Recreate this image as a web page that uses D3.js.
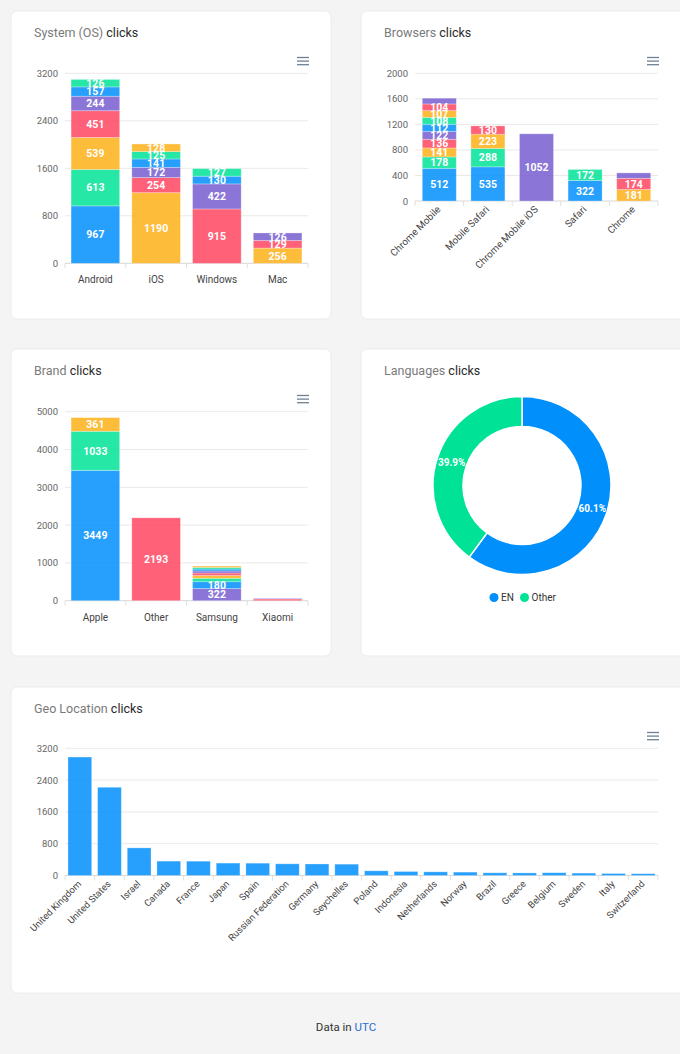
<!DOCTYPE html>
<html lang="en">
<head>
<meta charset="utf-8">
<title>Clicks dashboard</title>
<script src="https://cdn.jsdelivr.net/npm/d3@7"></script>
<style>
  body { margin: 0; background: #f4f4f4; font-family: Roboto, "Open Sans", sans-serif; }
  svg { display: block; }
</style>
</head>
<body>
<script>
// colour cycle, one colour per stacked series (like the original dashboard)
var palette = ["#008FFB", "#00E396", "#FEB019", "#FF4560", "#775DD0"];

var osCategories = ["Android", "iOS", "Windows", "Mac"];
var osValues = [
  [967, 613, 539, 451, 244, 157, 126],
  [1190, 254, 172, 141, 125, 128],
  [915, 422, 130, 127],
  [256, 129, 126]
];
var osTicks = [0, 800, 1600, 2400, 3200];

var browserCategories = ["Chrome Mobile", "Mobile Safari", "Chrome Mobile iOS", "Safari", "Chrome"];
var browserValues = [
  [512, 178, 141, 136, 122, 112, 108, 107, 104, 90],
  [535, 288, 223, 130],
  [1052],
  [322, 172],
  [181, 174, 85]
];
var browserTicks = [0, 400, 800, 1200, 1600, 2000];

var brandCategories = ["Apple", "Other", "Samsung", "Xiaomi"];
var brandValues = [
  [3449, 1033, 361],
  [2193],
  [322, 180, 90, 75, 65, 55, 50, 42, 37],
  [45, 15]
];
var brandTicks = [0, 1000, 2000, 3000, 4000, 5000];

var langLabels = ["EN", "Other"];
var langValues = [60.1, 39.9];
var langColors = ["#008FFB", "#00E396"];

var geoCategories = ["United Kingdom", "United States", "Israel", "Canada", "France", "Japan", "Spain",
  "Russian Federation", "Germany", "Seychelles", "Poland", "Indonesia", "Netherlands", "Norway",
  "Brazil", "Greece", "Belgium", "Sweden", "Italy", "Switzerland"];
var geoValues = [2980, 2220, 695, 362, 360, 312, 310, 294, 290, 285, 118, 100, 92, 85, 68, 65, 70, 60, 50, 45];
var geoTicks = [0, 800, 1600, 2400, 3200];

var W = 680, H = 1054;
var svg = d3.select("body").append("svg").attr("width", W).attr("height", H);

// cards
var cards = [
  {x: 11, y: 11, w: 320, h: 308},
  {x: 361, y: 11, w: 330, h: 308},
  {x: 11, y: 349, w: 320, h: 307},
  {x: 361, y: 349, w: 330, h: 307},
  {x: 11, y: 687, w: 680, h: 306}
];
svg.selectAll("rect.card").data(cards).enter().append("rect")
  .attr("class", "card")
  .attr("x", function(d) { return d.x; })
  .attr("y", function(d) { return d.y; })
  .attr("width", function(d) { return d.w; })
  .attr("height", function(d) { return d.h; })
  .attr("rx", 6)
  .attr("fill", "#fff")
  .attr("stroke", "#ececec");

function title(x, y, first) {
  var t = svg.append("text").attr("x", x).attr("y", y)
    .attr("font-size", "12.5px");
  t.append("tspan").attr("fill", "#7a7a7a").text(first + " ");
  t.append("tspan").attr("fill", "#2a2a2a").text("clicks");
}

function menu(x, y) {
  svg.selectAll(null).data([0, 3.6, 7.2]).enter().append("line")
    .attr("x1", x).attr("x2", x + 12)
    .attr("y1", function(d) { return y + d; })
    .attr("y2", function(d) { return y + d; })
    .attr("stroke", "#6e8192").attr("stroke-width", 1.3);
}

function yAxis(g, y, ticks, x0, x1) {
  g.selectAll("line.grid").data(ticks).enter().append("line")
    .attr("x1", x0).attr("x2", x1)
    .attr("y1", function(d) { return y(d); })
    .attr("y2", function(d) { return y(d); })
    .attr("stroke", function(d) { return d === 0 ? "#d8d8d8" : "#e9e9e9"; });
  g.selectAll("text.ytick").data(ticks).enter().append("text")
    .attr("x", x0 - 7)
    .attr("y", function(d) { return y(d) + 3.5; })
    .attr("text-anchor", "end")
    .attr("font-size", "9.5px")
    .attr("fill", "#666")
    .text(function(d) { return d; });
}

function xTicks(g, x, baseY) {
  var step = x.step();
  var r = x.range();
  var pos = d3.range(x.domain().length + 1).map(function(i) { return r[0] + i * step; });
  g.selectAll("line.xt").data(pos).enter().append("line")
    .attr("x1", function(d) { return d; }).attr("x2", function(d) { return d; })
    .attr("y1", baseY).attr("y2", baseY + 5)
    .attr("stroke", "#e0e0e0");
}

// stacked bar chart where every segment is its own series (colour by running index)
function stackedChart(cats, vals, ticks, box) {
  var g = svg.append("g");
  var x = d3.scaleBand().domain(cats).range([box.x0, box.x1])
    .paddingInner(box.pad).paddingOuter(box.pad / 2);
  var y = d3.scaleLinear().domain([0, d3.max(ticks)]).range([box.y0, box.y1]);
  yAxis(g, y, ticks, box.x0, box.x1);
  xTicks(g, x, box.y0);

  var segs = [];
  var idx = 0;
  cats.forEach(function(c, ci) {
    var cum = 0;
    vals[ci].forEach(function(v) {
      segs.push({cat: c, v: v, lo: cum, hi: cum + v, color: palette[idx % palette.length]});
      cum += v;
      idx++;
    });
  });

  g.selectAll("rect.seg").data(segs).enter().append("rect")
    .attr("x", function(d) { return x(d.cat); })
    .attr("width", x.bandwidth())
    .attr("y", function(d) { return y(d.hi); })
    .attr("height", function(d) { return y(d.lo) - y(d.hi); })
    .attr("fill", function(d) { return d.color; })
    .attr("fill-opacity", 0.85)
    .attr("stroke", "#fff").attr("stroke-opacity", 0.35).attr("stroke-width", 0.8);

  g.selectAll("text.lbl").data(segs.filter(function(d) { return d.v >= 100; })).enter().append("text")
    .attr("x", function(d) { return x(d.cat) + x.bandwidth() / 2; })
    .attr("y", function(d) { return (y(d.lo) + y(d.hi)) / 2 + 3.8; })
    .attr("text-anchor", "middle")
    .attr("font-size", "10.5px")
    .attr("font-weight", "bold")
    .attr("fill", "#fff")
    .text(function(d) { return d.v; });

  if (box.rotate) {
    g.selectAll("text.xl").data(cats).enter().append("text")
      .attr("transform", function(d) {
        return "translate(" + (x(d) + x.bandwidth() / 2 + 2) + "," + (box.y0 + 9) + ") rotate(-45)";
      })
      .attr("text-anchor", "end")
      .attr("font-size", "9.8px")
      .attr("fill", "#444")
      .text(function(d) { return d; });
  } else {
    g.selectAll("text.xl").data(cats).enter().append("text")
      .attr("x", function(d) { return x(d) + x.bandwidth() / 2; })
      .attr("y", box.y0 + 20)
      .attr("text-anchor", "middle")
      .attr("font-size", "10px")
      .attr("fill", "#444")
      .text(function(d) { return d; });
  }
}

// System (OS)
title(34, 37, "System (OS)");
menu(297, 57.5);
stackedChart(osCategories, osValues, osTicks, {x0: 65, x1: 308, y0: 263.3, y1: 73.3, pad: 0.2});

// Browsers
title(384, 37, "Browsers");
menu(647, 57.5);
stackedChart(browserCategories, browserValues, browserTicks, {x0: 415, x1: 658, y0: 201, y1: 73.3, pad: 0.3, rotate: true});

// Brand
title(34, 375, "Brand");
menu(297, 395.5);
stackedChart(brandCategories, brandValues, brandTicks, {x0: 65, x1: 308, y0: 600.7, y1: 411.7, pad: 0.2});

// Languages donut
title(384, 375, "Languages");
(function() {
  var cx = 522, cy = 485.5, rOut = 89, rIn = 59;
  var g = svg.append("g").attr("transform", "translate(" + cx + "," + cy + ")");
  var pie = d3.pie().sort(null).value(function(d) { return d; });
  var arcs = pie(langValues);
  var arc = d3.arc().innerRadius(rIn).outerRadius(rOut);
  g.selectAll("path").data(arcs).enter().append("path")
    .attr("d", arc)
    .attr("fill", function(d, i) { return langColors[i]; })
    .attr("stroke", "#fff").attr("stroke-width", 1.5);
  var mid = d3.arc().innerRadius((rIn + rOut) / 2).outerRadius((rIn + rOut) / 2);
  g.selectAll("text").data(arcs).enter().append("text")
    .attr("transform", function(d) { return "translate(" + mid.centroid(d) + ")"; })
    .attr("text-anchor", "middle")
    .attr("dy", "0.35em")
    .attr("font-size", "10px")
    .attr("font-weight", "bold")
    .attr("fill", "#fff")
    .text(function(d) { return d.value.toFixed(1) + "%"; });

  var legend = [{x: 494, label: langLabels[0], c: langColors[0]}, {x: 524.5, label: langLabels[1], c: langColors[1]}];
  var lg = svg.append("g");
  lg.selectAll("circle").data(legend).enter().append("circle")
    .attr("cx", function(d) { return d.x; }).attr("cy", 597.5).attr("r", 4.5)
    .attr("fill", function(d) { return d.c; });
  lg.selectAll("text").data(legend).enter().append("text")
    .attr("x", function(d) { return d.x + 7; }).attr("y", 601)
    .attr("font-size", "10px").attr("fill", "#333")
    .text(function(d) { return d.label; });
})();

// Geo Location
title(34, 713, "Geo Location");
menu(647, 732.5);
(function() {
  var g = svg.append("g");
  var x0 = 65, x1 = 658, yb = 875.5, yt = 748.3;
  var x = d3.scaleBand().domain(geoCategories).range([x0, x1]).paddingInner(0.2).paddingOuter(0.1);
  var y = d3.scaleLinear().domain([0, d3.max(geoTicks)]).range([yb, yt]);
  yAxis(g, y, geoTicks, x0, x1);
  xTicks(g, x, yb);
  g.selectAll("rect.bar").data(geoCategories).enter().append("rect")
    .attr("x", function(d) { return x(d); })
    .attr("width", x.bandwidth())
    .attr("y", function(d, i) { return y(geoValues[i]); })
    .attr("height", function(d, i) { return yb - y(geoValues[i]); })
    .attr("fill", palette[0]).attr("fill-opacity", 0.85)
    .attr("stroke", "#fff").attr("stroke-opacity", 0.35).attr("stroke-width", 0.8);
  g.selectAll("text.xl").data(geoCategories).enter().append("text")
    .attr("transform", function(d) {
      return "translate(" + (x(d) + x.bandwidth() / 2 + 2) + "," + (yb + 9) + ") rotate(-45)";
    })
    .attr("text-anchor", "end")
    .attr("font-size", "9.5px")
    .attr("fill", "#444")
    .text(function(d) { return d; });
})();

// footer
var foot = svg.append("text").attr("x", 346).attr("y", 1031)
  .attr("text-anchor", "middle").attr("font-size", "11.5px");
foot.append("tspan").attr("fill", "#333").text("Data in ");
foot.append("tspan").attr("fill", "#2d6ccf").text("UTC");
</script>
</body>
</html>
